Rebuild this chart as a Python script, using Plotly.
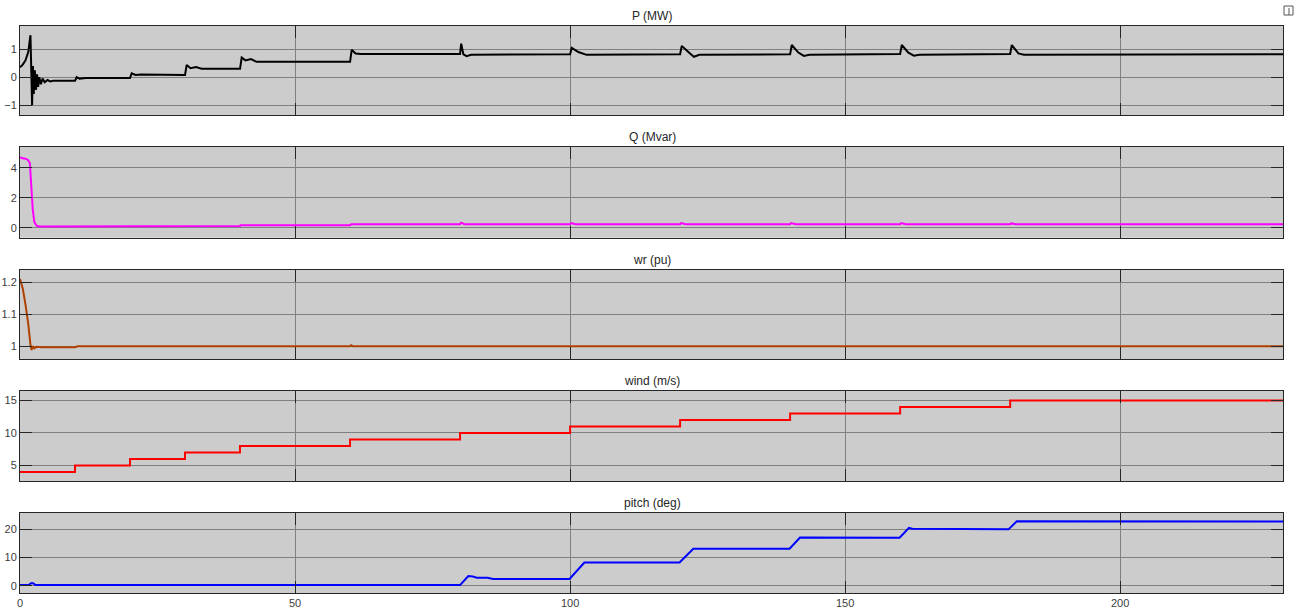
import plotly.graph_objects as go

# ---- signal data (time in s) ----
p_t = [0, 0.5, 1.0, 1.5, 1.9, 2.05, 2.2, 2.35, 2.5, 2.7, 2.9, 3.1, 3.3, 3.5, 3.8, 4.1, 4.5, 5, 5.5, 6,
       10, 10.3, 10.8, 12, 20, 20.3, 21, 22, 30, 30.3, 31, 32, 33, 40, 40.3, 41, 42, 43,
       60, 60.3, 61, 62, 80, 80.2, 80.6, 81.2, 82, 100, 100.3, 101.5, 103,
       120, 120.3, 121.5, 122.5, 123.5, 140, 140.3, 141.5, 142.5, 143.5,
       160, 160.3, 161.5, 162.5, 163.5, 180, 180.3, 181.5, 182.5, 229.6]
p_mw = [0.35, 0.45, 0.6, 0.9, 1.5, 0.2, -1.0, 0.4, -0.6, 0.25, -0.45, 0.1, -0.35, 0.0, -0.25, -0.05, -0.18, -0.1, -0.15, -0.13,
        -0.13, 0.0, -0.05, -0.03, -0.03, 0.14, 0.08, 0.1, 0.08, 0.44, 0.32, 0.36, 0.3, 0.3, 0.7, 0.6, 0.65, 0.55,
        0.55, 0.98, 0.85, 0.83, 0.83, 1.2, 0.82, 0.75, 0.8, 0.82, 1.05, 0.9, 0.8,
        0.82, 1.12, 0.9, 0.73, 0.8, 0.82, 1.15, 0.88, 0.76, 0.8,
        0.83, 1.15, 0.88, 0.77, 0.8, 0.83, 1.15, 0.85, 0.8, 0.82]

q_t = [0, 0.3, 1.0, 1.5, 1.8, 2.0, 2.3, 2.6, 3.0, 3.5, 30, 40, 40.1, 60, 60.2,
       80, 80.2, 80.8, 100, 100.2, 101, 120, 120.2, 121, 140, 140.2, 141,
       160, 160.2, 161, 180, 180.2, 181, 229.6]
q_mvar = [4.7, 4.65, 4.6, 4.5, 4.3, 3.0, 1.3, 0.4, 0.15, 0.1, 0.1, 0.12, 0.18, 0.18, 0.25,
          0.25, 0.35, 0.25, 0.25, 0.32, 0.25, 0.25, 0.32, 0.25, 0.25, 0.32, 0.25,
          0.25, 0.32, 0.25, 0.25, 0.3, 0.25, 0.25]

wr_t = [0, 0.5, 1.0, 1.5, 1.9, 2.1, 2.3, 2.6, 3.0, 4.0, 10, 10.5, 60, 60.2, 60.5, 229.6]
wr_pu = [1.21, 1.18, 1.13, 1.07, 1.005, 0.988, 1.0, 0.993, 0.998, 0.997, 0.997, 1.0, 1.0, 1.003, 1.0, 1.0]

wind_t = [0, 10, 20, 30, 40, 60, 80, 100, 120, 140, 160, 180, 229.6]
wind_ms = [4, 5, 6, 7, 8, 9, 10, 11, 12, 13, 14, 15, 15]

pitch_t = [0, 1.6, 2.0, 2.4, 2.8, 80.0, 81.5, 82.3, 83, 85, 86, 99.9, 102.6, 119.9, 122.4,
           139.9, 141.8, 159.9, 161.6, 162.2, 179.7, 181.2, 229.6]
pitch_deg = [0.2, 0.2, 0.9, 0.9, 0.2, 0.2, 3.4, 3.3, 2.8, 2.8, 2.4, 2.4, 8.2, 8.2, 13.1,
             13.1, 17.1, 17.0, 20.5, 20.2, 20.0, 22.9, 22.8]

titles = ["P (MW)", "Q (Mvar)", "wr (pu)", "wind (m/s)", "pitch (deg)"]
colors = ["#000000", "#FF00FF", "#B04000", "#FF0000", "#0000FF"]
y_ranges = [[-1.35, 1.83], [-0.65, 5.4], [0.96, 1.238], [2.6, 16.5], [-2.6, 25.8]]
y_ticks = [[-1, 0, 1], [0, 2, 4], [1, 1.1, 1.2], [5, 10, 15], [0, 10, 20]]
x_ticks = [0, 50, 100, 150, 200]
x_max = 229.6

W, H = 1305, 610
# pixel extents of each panel (top, bottom)
panel_px = [(26, 115), (146.7, 237.7), (270, 359), (390.7, 481), (513, 593)]
left_px, right_px = 20, 1283

series = [(p_t, p_mw), (q_t, q_mvar), (wr_t, wr_pu), (wind_t, wind_ms), (pitch_t, pitch_deg)]

fig = go.Figure()
annotations = []
for i, ((tx, vy), col) in enumerate(zip(series, colors)):
    n = "" if i == 0 else str(i + 1)
    shape = "hv" if i == 3 else "linear"
    fig.add_trace(go.Scatter(x=tx, y=vy, mode="lines", xaxis="x" + n, yaxis="y" + n,
                             line=dict(color=col, width=2, shape=shape), showlegend=False,
                             hoverinfo="skip"))
    top, bot = panel_px[i]
    common = dict(showline=True, linecolor="#262626", linewidth=1, mirror="ticks",
                  ticks="inside", ticklen=12, tickcolor="#262626", tickwidth=1,
                  showgrid=True, gridcolor="#808080", gridwidth=1, zeroline=False,
                  automargin=False,
                  tickfont=dict(family="Liberation Sans, Arial", size=11, color="#404040"))
    fig.update_layout(**{
        "xaxis" + n: dict(domain=[left_px / W, right_px / W], range=[0, x_max],
                          tickvals=x_ticks, showticklabels=(i == 4),
                          anchor="y" + n, **common),
        "yaxis" + n: dict(domain=[1 - bot / H, 1 - top / H], range=y_ranges[i],
                          tickvals=y_ticks[i], anchor="x" + n, **common),
    })
    annotations.append(dict(text=titles[i], xref="paper", yref="paper",
                            x=652 / W, y=1 - (top - 10) / H, xanchor="center", yanchor="middle",
                            showarrow=False,
                            font=dict(family="Liberation Sans, Arial", size=12, color="#262626")))

fig.update_layout(
    width=W, height=H, margin=dict(l=0, r=0, t=0, b=0),
    paper_bgcolor="white", plot_bgcolor="#CCCCCC",
    annotations=annotations,
    shapes=[dict(type="rect", xref="paper", yref="paper",
                 x0=1284 / W, x1=1293 / W, y0=1 - 15 / H, y1=1 - 6 / H,
                 line=dict(color="#555555", width=1)),
            dict(type="line", xref="paper", yref="paper",
                 x0=1289 / W, x1=1289 / W, y0=1 - 15 / H, y1=1 - 8 / H,
                 line=dict(color="#555555", width=1))],
)

fig.write_html("out.html")
